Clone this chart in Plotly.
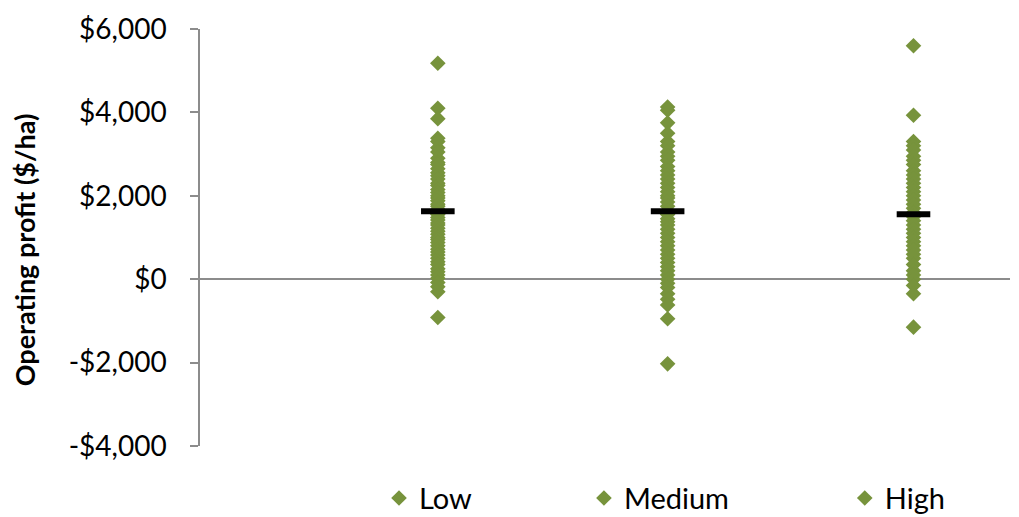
import plotly.graph_objects as go

# Category positions on the numeric x axis (Excel scatter)
cat_names = ["Low", "Medium", "High"]
cat_x = [1.0, 2.0, 3.07]

low_vals = [5180, 4100, 3850, 3380, 3300, 3150, 3050, 2900, 2800, 2750, 2650, 2550,
            2480, 2400, 2300, 2250, 2150, 2080, 2000, 1950, 1880, 1800, 1750, 1680,
            1620, 1550, 1480, 1420, 1350, 1300, 1220, 1150, 1080, 1000, 950, 880, 800,
            720, 650, 580, 500, 420, 350, 250, 180, 100, 20, -80, -180, -300, -920]
medium_vals = [4130, 4050, 3750, 3500, 3300, 3200, 3050, 2950, 2850, 2700, 2600, 2500,
               2400, 2300, 2200, 2100, 2000, 1950, 1850, 1750, 1650, 1550, 1450, 1380,
               1300, 1200, 1100, 1000, 900, 800, 700, 600, 500, 400, 300, 200, 100, 0,
               -100, -200, -350, -480, -620, -950, -2030]
high_vals = [5600, 3930, 3300, 3200, 3100, 2950, 2850, 2750, 2600, 2500, 2400, 2300,
             2200, 2100, 2000, 1900, 1800, 1700, 1600, 1500, 1400, 1300, 1200, 1100,
             1000, 900, 800, 700, 600, 500, 350, 200, 100, 0, -150, -350, -1150]
mean_vals = [1630, 1630, 1560]

tick_vals = [-4000, -2000, 0, 2000, 4000, 6000]
tick_text = ["-$4,000", "-$2,000", "$0", "$2,000", "$4,000", "$6,000"]
y_title = "Operating profit ($/ha)"

green = "#77933C"
axis_grey = "#8c8c8c"
font_family = "Lato, 'Open Sans', sans-serif"

fig = go.Figure()
series = [low_vals, medium_vals, high_vals]
legends = ["legend", "legend2", "legend3"]
for name, xv, vals, lg in zip(cat_names, cat_x, series, legends):
    fig.add_trace(go.Scatter(
        x=[xv] * len(vals), y=vals, mode="markers", name=name,
        marker=dict(symbol="diamond", size=12, color=green, line=dict(width=0)),
        legend=lg, showlegend=True, hoverinfo="y"))

fig.add_trace(go.Scatter(
    x=cat_x, y=mean_vals, mode="markers", showlegend=False,
    marker=dict(symbol="line-ew", size=24, line=dict(width=6, color="black"), color="black")))

legend_common = dict(orientation="h", yanchor="middle", xanchor="left",
                     y=-0.125,
                     font=dict(size=29, family=font_family, color="black"),
                     bgcolor="rgba(0,0,0,0)", itemclick=False, itemdoubleclick=False)

# The page body adds an 8px offset, so the figure is sized to fit the window.
fig.update_layout(
    width=1011, height=509,
    margin=dict(l=192, r=9, t=21, b=71, autoexpand=False),
    paper_bgcolor="white", plot_bgcolor="white",
    font=dict(family=font_family, color="black"),
    legend=dict(x=0.221, **legend_common),
    legend2=dict(x=0.474, **legend_common),
    legend3=dict(x=0.796, **legend_common),
    xaxis=dict(range=[-0.035, 3.49], showgrid=False, zeroline=False, showline=False,
               showticklabels=False, ticks="", automargin=False),
    yaxis=dict(range=[-4000, 6000], tickvals=tick_vals, ticktext=tick_text,
               showgrid=False, zeroline=True, zerolinecolor=axis_grey, zerolinewidth=1.5,
               showline=True, linecolor=axis_grey, linewidth=1.5,
               ticks="outside", ticklen=8, tickcolor=axis_grey, tickwidth=1.5,
               ticklabelstandoff=18, automargin=False,
               tickfont=dict(size=28, family=font_family, color="black")),
    annotations=[dict(text="<b>" + y_title + "</b>", xref="paper", yref="paper",
                      x=-0.217, y=0.47, xanchor="center", yanchor="middle",
                      textangle=-90, showarrow=False,
                      font=dict(size=27, family=font_family, color="black"))],
)

fig.write_html("out.html")
